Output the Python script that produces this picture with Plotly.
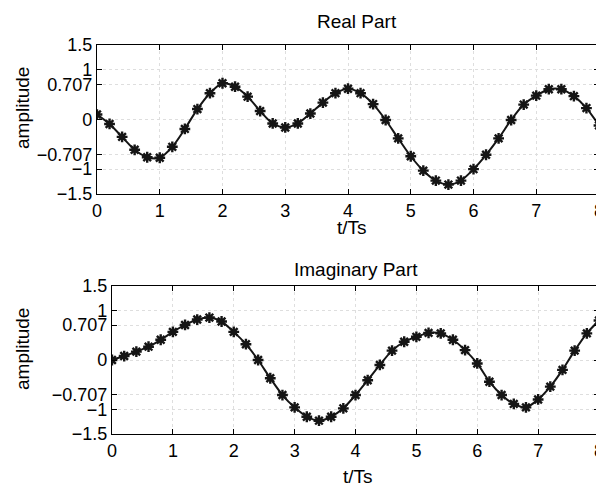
import plotly.graph_objects as go

# ---- data ----
t = [round(0.2 * i, 1) for i in range(41)]
real_part = [0.10, -0.09, -0.35, -0.61, -0.76, -0.77, -0.55, -0.19, 0.21, 0.53,
             0.73, 0.66, 0.46, 0.17, -0.08, -0.16, -0.08, 0.12, 0.34, 0.53,
             0.62, 0.53, 0.31, -0.01, -0.38, -0.74, -1.03, -1.23, -1.31, -1.23,
             -1.00, -0.71, -0.38, -0.01, 0.30, 0.48, 0.61, 0.61, 0.47, 0.23, -0.12]
imag_part = [0.00, 0.08, 0.17, 0.27, 0.41, 0.57, 0.71, 0.82, 0.86, 0.78,
             0.57, 0.32, 0.00, -0.37, -0.71, -0.96, -1.15, -1.23, -1.15, -0.98,
             -0.71, -0.41, -0.10, 0.19, 0.37, 0.47, 0.55, 0.54, 0.41, 0.20,
             -0.07, -0.44, -0.71, -0.89, -0.96, -0.80, -0.54, -0.20, 0.19, 0.54, 0.80]
x_ticks = [0, 1, 2, 3, 4, 5, 6, 7, 8]
y_ticks = [-1.5, -1, -0.707, 0, 0.707, 1, 1.5]
y_tick_text = ["\u22121.5", "\u22121", "\u22120.707", "0", "0.707", "1", "1.5"]
titles = ["Real Part", "Imaginary Part"]

FONT = "Liberation Sans, Arial, sans-serif"
OFF = 8                      # page body margin in the browser
W, H = 604 - OFF, 488 - OFF  # figure size that fits the window


def px(x):
    return (x - OFF) / W


def py(y):
    return 1 - (y - OFF) / H


fig = go.Figure()
for i, (ys, name) in enumerate([(real_part, titles[0]), (imag_part, titles[1])]):
    sfx = "" if i == 0 else "2"
    fig.add_trace(go.Scatter(
        x=t, y=ys, mode="lines+markers", name=name,
        xaxis="x" + sfx, yaxis="y" + sfx,
        line=dict(color="#151515", width=2, shape="spline", smoothing=0.8),
        marker=dict(symbol="asterisk-open", size=9,
                    line=dict(color="#56625a", width=2.4)),
        showlegend=False,
    ))


def xax(domain, anchor):
    return dict(domain=domain, anchor=anchor, range=[0, 8], tickvals=x_ticks,
                ticks="inside", ticklen=5, tickwidth=1, tickcolor="black",
                showline=True, linecolor="black", linewidth=1.2, mirror="allticks",
                showgrid=True, gridcolor="#dedede", griddash="dot", gridwidth=1,
                zeroline=False, ticklabelstandoff=0, ticklabeloverflow="allow",
                automargin=False,
                tickfont=dict(family=FONT, size=18, color="black"))


def yax(domain, anchor):
    return dict(domain=domain, anchor=anchor, range=[-1.5, 1.5],
                tickvals=y_ticks, ticktext=y_tick_text,
                ticks="inside", ticklen=5, tickwidth=1, tickcolor="black",
                showline=True, linecolor="black", linewidth=1.2, mirror="allticks",
                showgrid=True, gridcolor="#dedede", griddash="dot", gridwidth=1,
                zeroline=False, ticklabelstandoff=0, ticklabeloverflow="allow",
                automargin=False,
                tickfont=dict(family=FONT, size=18, color="black"))


top_x = [px(97), px(599)]
top_y = [py(194), py(45)]
bot_x = [px(112), px(599)]
bot_y = [py(434), py(286)]

ann = []


def add_text(text, x, y, size, angle=0):
    ann.append(dict(text=text, x=px(x), y=py(y), xref="paper", yref="paper",
                    showarrow=False, textangle=angle, xanchor="center", yanchor="middle",
                    font=dict(family=FONT, size=size, color="black")))


add_text(titles[0], 357, 21, 19)
add_text(titles[1], 356, 269, 19)
add_text("t/Ts", 352, 228, 19)
add_text("t/Ts", 358, 476, 19)
add_text("amplitude", 22, 108, 19, -90)
add_text("amplitude", 22, 349, 19, -90)

fig.update_layout(
    width=W, height=H, margin=dict(l=0, r=0, t=0, b=0, autoexpand=False),
    paper_bgcolor="white", plot_bgcolor="white",
    xaxis=xax(top_x, "y"), yaxis=yax(top_y, "x"),
    xaxis2=xax(bot_x, "y2"), yaxis2=yax(bot_y, "x2"),
    annotations=ann,
)

fig.write_html("out.html")
